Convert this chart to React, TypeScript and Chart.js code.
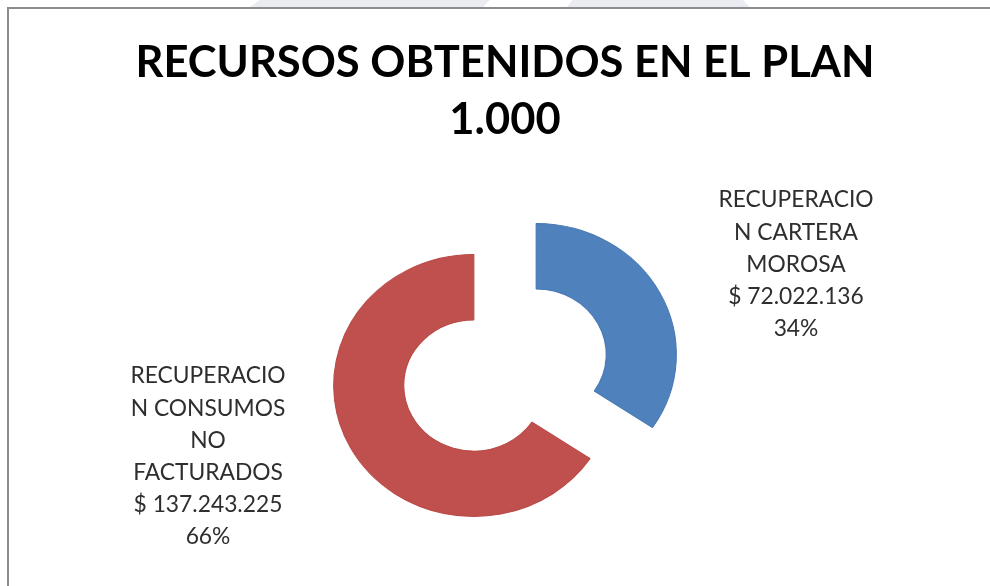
import React, { useEffect, useRef } from "react";
import { Chart, registerables } from "chart.js";

Chart.register(...registerables);

const titleLines = ["RECURSOS OBTENIDOS EN EL PLAN", "1.000"];
const categories = ["RECUPERACION CARTERA MOROSA", "RECUPERACION CONSUMOS NO FACTURADOS"];
const labelLines = [
  ["RECUPERACIO", "N CARTERA", "MOROSA"],
  ["RECUPERACIO", "N CONSUMOS", "NO", "FACTURADOS"],
];
const values = [72022136, 137243225];
const colors = ["#4F81BD", "#C0504D"];
const borderColors = ["#4677B2", "#B84A47"];

function fmtMoney(v: number): string {
  const s = Math.round(v).toString();
  let out = "";
  for (let i = 0; i < s.length; i++) {
    const fromEnd = s.length - i;
    out += s[i];
    if (fromEnd > 1 && (fromEnd - 1) % 3 === 0) out += ".";
  }
  return "$ " + out;
}

const W = 990;
const H = 586;
const EXPLODE = 33;
const STRETCH_X = 1.07;
// label anchor offsets (first line centre) relative to the chart centre
const labelOffsets = [
  { dx: 291, dy: -170 },
  { dx: -297, dy: 6 },
];
const LINE_H = 32.2;

const explodePlugin = {
  id: "explode",
  afterDatasetsUpdate(chart: any) {
    const meta = chart.getDatasetMeta(0);
    meta.data.forEach((arc: any) => {
      const mid = (arc.startAngle + arc.endAngle) / 2;
      arc.x += Math.cos(mid) * EXPLODE;
      arc.y += Math.sin(mid) * EXPLODE;
    });
  },
  beforeDatasetsDraw(chart: any) {
    const { ctx, chartArea } = chart;
    const cx = (chartArea.left + chartArea.right) / 2;
    const cy = (chartArea.top + chartArea.bottom) / 2;
    ctx.save();
    ctx.translate(cx, cy);
    ctx.scale(STRETCH_X, 1);
    ctx.translate(-cx, -cy);
  },
  afterDatasetsDraw(chart: any) {
    chart.ctx.restore();
  },
};

const labelPlugin = {
  id: "sliceLabels",
  afterDraw(chart: any) {
    const { ctx, chartArea } = chart;
    const cx = (chartArea.left + chartArea.right) / 2;
    const cy = (chartArea.top + chartArea.bottom) / 2;
    const data = chart.data.datasets[0].data as number[];
    const total = data.reduce((a, b) => a + b, 0);
    ctx.save();
    ctx.font = "22.8px Lato";
    ctx.fillStyle = "#2e2e2e";
    ctx.textAlign = "center";
    ctx.textBaseline = "middle";
    data.forEach((v, i) => {
      const lines = [...labelLines[i], fmtMoney(v), Math.round((v / total) * 100) + "%"];
      const x = cx + labelOffsets[i].dx;
      const y0 = cy + labelOffsets[i].dy;
      lines.forEach((t, k) => ctx.fillText(t, x, y0 + k * LINE_H));
    });
    ctx.restore();
  },
};

export default function App() {
  const ref = useRef<HTMLCanvasElement | null>(null);
  useEffect(() => {
    if (!ref.current) return;
    const chart = new Chart(ref.current, {
      type: "doughnut",
      data: {
        labels: categories,
        datasets: [
          {
            data: values,
            backgroundColor: colors,
            borderColor: borderColors,
            borderWidth: 1,
            radius: 131,
            cutout: "50%",
          } as any,
        ],
      },
      options: {
        responsive: false,
        animation: false,
        events: [],
        layout: { padding: { left: 40, right: 20, top: 0, bottom: 16 } },
        plugins: {
          legend: { display: false },
          tooltip: { enabled: false },
          title: {
            display: true,
            text: titleLines,
            color: "#000000",
            font: { family: "Lato", size: 43.5, weight: "bold", lineHeight: 57 / 43.5 },
            padding: { top: 34, bottom: 22 },
          },
        },
      } as any,
      plugins: [explodePlugin, labelPlugin],
    });
    return () => chart.destroy();
  }, []);
  return (
    <div style={{ position: "fixed", left: 0, top: 0, width: W, height: H, background: "#fff", overflow: "hidden" }}>
      <div
        style={{
          position: "absolute",
          left: 250,
          top: 0,
          width: 240,
          height: 7,
          background: "#ebebf2",
          clipPath: "polygon(0 100%, 4% 0, 100% 0, 97% 100%)",
        }}
      />
      <div
        style={{
          position: "absolute",
          left: 567,
          top: 0,
          width: 183,
          height: 7,
          background: "#ebebf2",
          clipPath: "polygon(0 100%, 3% 0, 96% 0, 100% 100%)",
        }}
      />
      <canvas ref={ref} width={W} height={H} style={{ position: "absolute", left: 0, top: 0, width: W, height: H }} />
      <div
        style={{
          position: "absolute",
          left: 7,
          top: 7,
          width: W,
          height: H,
          borderTop: "2px solid #8c8c8c",
          borderLeft: "2px solid #8c8c8c",
          pointerEvents: "none",
        }}
      />
    </div>
  );
}
